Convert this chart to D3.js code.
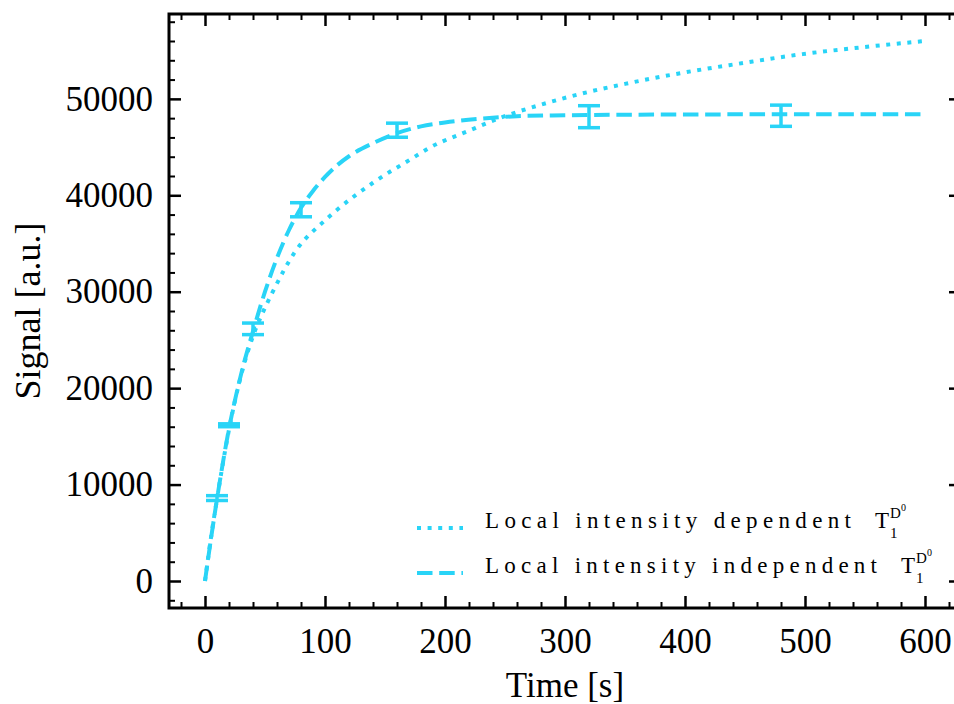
<!DOCTYPE html>
<html>
<head>
<meta charset="utf-8">
<script src="https://cdn.jsdelivr.net/npm/d3@7"></script>
<style>
    body { margin: 0; background: #fff; }
    #chart text { font-family: "Liberation Serif", "DejaVu Serif", serif; fill: #000; }
</style>
</head>
<body>
<div id="chart"></div>
<script>
// Measured points (x in s)
const measTime = [10, 20, 40, 80, 160, 320, 480];
const measSignal = [8600, 16150, 26150, 38500, 46750, 48150, 48250];
const measErr = [250, 150, 600, 730, 730, 1140, 1100];

// Local intensity dependent T1 curve (dotted)
const depTime = [0, 5, 10, 20, 30, 40, 48, 56, 75, 100, 108, 140, 172, 187, 220, 246, 280, 321, 350, 396, 450, 498, 550, 600];
const depSignal = [0, 4500, 8500, 15700, 21300, 25400, 27800, 29880, 34130, 37400, 38280, 41300, 43780, 44920, 46700, 48030, 49400, 50760, 51550, 52660, 53750, 54640, 55380, 56000];

// Local intensity independent T1 curve (dashed)
const indTime = [0, 5, 10, 20, 30, 40, 50, 60, 70, 80, 90, 100, 110, 120, 140, 160, 180, 200, 230, 260, 300, 350, 400, 500, 600];
const indSignal = [0, 4400, 8500, 15800, 21400, 25900, 30000, 33500, 36400, 38700, 40450, 41900, 43100, 44050, 45400, 46450, 47150, 47550, 47950, 48200, 48300, 48350, 48380, 48400, 48400];

const xTicks = [0, 100, 200, 300, 400, 500, 600];
const yTicks = [0, 10000, 20000, 30000, 40000, 50000];
const legendLabels = ["Local intensity dependent", "Local intensity independent"];

const color = "#29d4f7";

function drawChart() {
    const width = 954, height = 704;
    const left = 169, right = 961, top = 14, bottom = 608;

    const x = d3.scaleLinear().domain([-30, 630]).range([left, right]);
    const y = d3.scaleLinear().domain([-2800, 58800]).range([bottom, top]);

    const svg = d3.select("#chart")
        .append("svg")
        .attr("width", width)
        .attr("height", height);

    const line = d3.line()
        .x(d => x(d[0]))
        .y(d => y(d[1]))
        .curve(d3.curveMonotoneX);

    // dotted curve
    svg.append("path")
        .datum(d3.zip(depTime, depSignal))
        .attr("d", line)
        .attr("fill", "none")
        .attr("stroke", color)
        .attr("stroke-width", 4)
        .attr("stroke-dasharray", "4 6.6");

    // dashed curve
    svg.append("path")
        .datum(d3.zip(indTime, indSignal))
        .attr("d", line)
        .attr("fill", "none")
        .attr("stroke", color)
        .attr("stroke-width", 4)
        .attr("stroke-dasharray", "15.5 6.7");

    // error bars
    const eb = svg.append("g")
        .attr("stroke", color)
        .attr("stroke-width", 3.5);
    measTime.forEach((t, i) => {
        const lo = y(measSignal[i] - measErr[i]), hi = y(measSignal[i] + measErr[i]);
        eb.append("line").attr("x1", x(t)).attr("x2", x(t)).attr("y1", lo).attr("y2", hi);
        eb.append("line").attr("x1", x(t) - 11).attr("x2", x(t) + 11).attr("y1", lo).attr("y2", lo);
        eb.append("line").attr("x1", x(t) - 11).attr("x2", x(t) + 11).attr("y1", hi).attr("y2", hi);
    });

    // Axes, ticks inward on all four sides
    const xMinor = d3.range(-20, 621, 20).filter(v => v % 100 !== 0);
    const yMinor = d3.range(-2000, 58001, 2000).filter(v => v % 10000 !== 0);

    const axisBottom = d3.axisBottom(x).tickValues(xTicks).tickSize(-12).tickPadding(20).tickFormat(d3.format("d"));
    const axisTop = d3.axisTop(x).tickValues(xTicks).tickSize(-12).tickFormat("");
    const axisLeft = d3.axisLeft(y).tickValues(yTicks).tickSize(-12).tickPadding(16).tickFormat(d3.format("d"));
    const axisRight = d3.axisRight(y).tickValues(yTicks).tickSize(-12).tickFormat("");

    const styleAxis = g => {
        g.select(".domain").remove();
        g.selectAll(".tick line").attr("stroke", "#000").attr("stroke-width", 2.5);
        g.selectAll(".tick text").style("font-size", "35px").attr("fill", "#000");
    };

    svg.append("g").attr("transform", `translate(0,${bottom})`).call(axisBottom).call(styleAxis);
    svg.append("g").attr("transform", `translate(0,${top})`).call(axisTop).call(styleAxis);
    svg.append("g").attr("transform", `translate(${left},0)`).call(axisLeft).call(styleAxis);
    svg.append("g").attr("transform", `translate(${right},0)`).call(axisRight).call(styleAxis);

    const minorStyle = g => {
        g.select(".domain").remove();
        g.selectAll(".tick line").attr("stroke", "#000").attr("stroke-width", 2);
    };
    svg.append("g").attr("transform", `translate(0,${bottom})`)
        .call(d3.axisBottom(x).tickValues(xMinor).tickSize(-6).tickFormat("")).call(minorStyle);
    svg.append("g").attr("transform", `translate(0,${top})`)
        .call(d3.axisTop(x).tickValues(xMinor).tickSize(-6).tickFormat("")).call(minorStyle);
    svg.append("g").attr("transform", `translate(${left},0)`)
        .call(d3.axisLeft(y).tickValues(yMinor).tickSize(-6).tickFormat("")).call(minorStyle);
    svg.append("g").attr("transform", `translate(${right},0)`)
        .call(d3.axisRight(y).tickValues(yMinor).tickSize(-6).tickFormat("")).call(minorStyle);

    // frame
    svg.append("rect")
        .attr("x", left).attr("y", top)
        .attr("width", right - left).attr("height", bottom - top)
        .attr("fill", "none")
        .attr("stroke", "#000")
        .attr("stroke-width", 3);

    // axis labels
    svg.append("text")
        .attr("x", (left + right) / 2)
        .attr("y", 697)
        .attr("text-anchor", "middle")
        .style("font-size", "35px")
        .text("Time [s]");

    svg.append("text")
        .attr("transform", `translate(40,${(top + bottom) / 2}) rotate(-90)`)
        .attr("text-anchor", "middle")
        .style("font-size", "36px")
        .text("Signal [a.u.]");

    // legend
    const dashes = ["4 6.6", "15.5 6.7"];
    const textWidths = [366, 392];
    const legend = svg.append("g");
    legendLabels.forEach((label, i) => {
        const ly = 528 + i * 45;
        legend.append("line")
            .attr("x1", 417).attr("x2", 463)
            .attr("y1", ly).attr("y2", ly)
            .attr("stroke", color)
            .attr("stroke-width", 4)
            .attr("stroke-dasharray", dashes[i]);
        const tx = 485, base = ly;
        legend.append("text")
            .attr("x", tx).attr("y", base)
            .attr("textLength", textWidths[i])
            .attr("lengthAdjust", "spacing")
            .style("font-size", "23px")
            .text(label);
        // T_1^{D^0}
        const tX = tx + textWidths[i] + 24;
        legend.append("text").attr("x", tX).attr("y", base).style("font-size", "23px").text("T");
        legend.append("text").attr("x", tX + 15).attr("y", base + 10).style("font-size", "15px").text("1");
        legend.append("text").attr("x", tX + 15).attr("y", base - 10).style("font-size", "15px").text("D");
        legend.append("text").attr("x", tX + 26).attr("y", base - 17).style("font-size", "10px").text("0");
    });
}

drawChart();
</script>
</body>
</html>
